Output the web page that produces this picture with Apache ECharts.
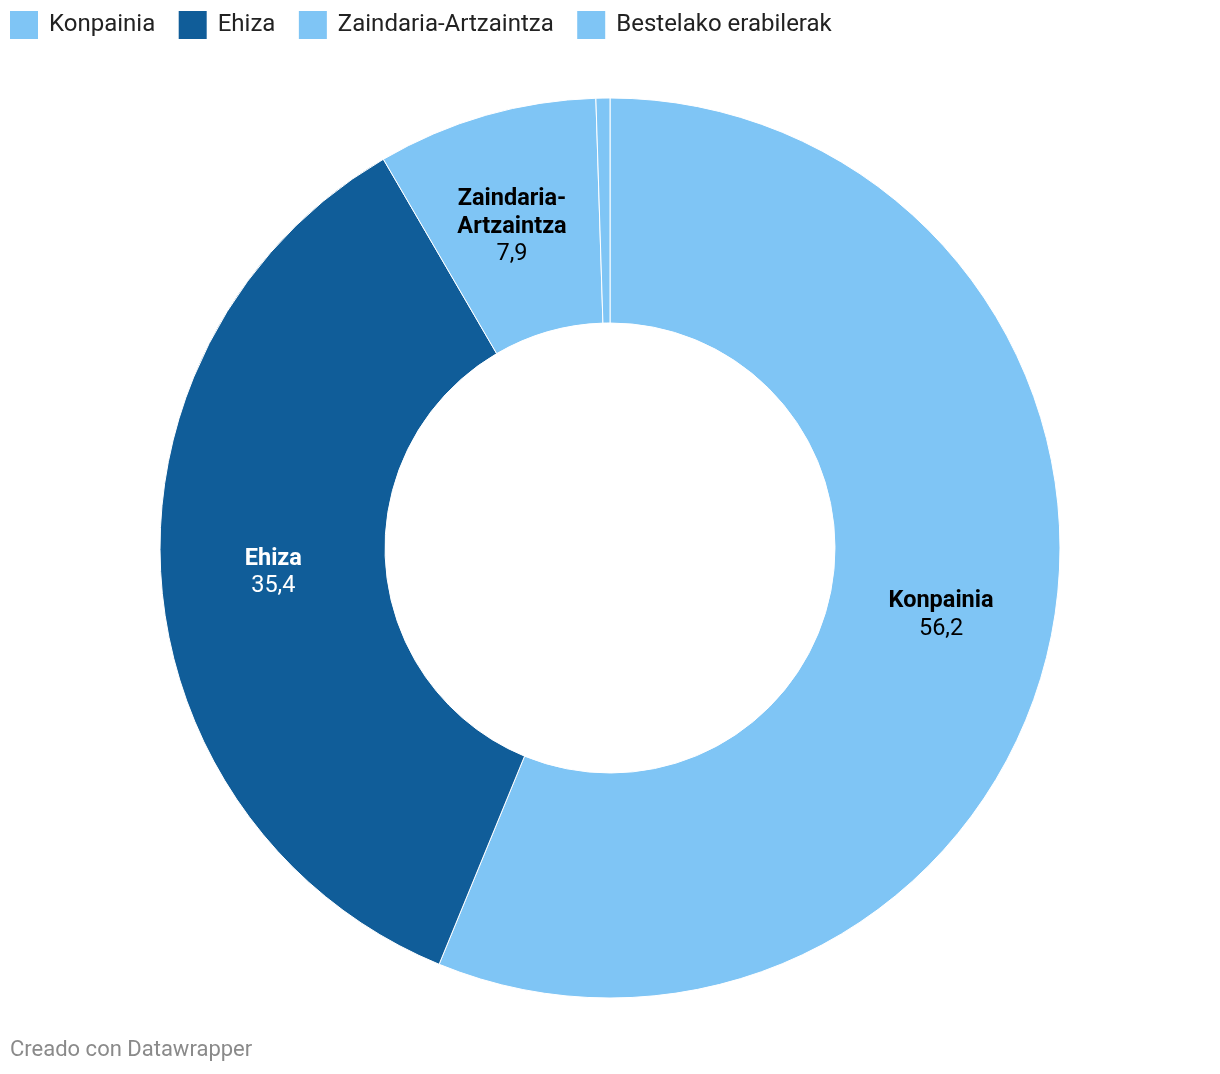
<!DOCTYPE html>
<html>
<head>
<meta charset="utf-8">
<script src="https://cdn.jsdelivr.net/npm/echarts@6/dist/echarts.min.js"></script>
<style>
html,body{margin:0;padding:0;background:#fff;}
#chart{width:1220px;height:1074px;}
</style>
</head>
<body>
<div id="chart"></div>
<script>
const categories = ["Konpainia", "Ehiza", "Zaindaria-Artzaintza", "Bestelako erabilerak"];
const values = [56.2, 35.4, 7.9, 0.5];
const colors = ["#7fc5f5", "#105d99", "#7fc5f5", "#7fc5f5"];
const labelColors = ["#000000", "#ffffff", "#000000", "#000000"];
const showLabel = [true, true, true, false];
const labelOffsets = [[-3, 1], [3, 1], [-4, 6], [0, 0]];

const chart = echarts.init(document.getElementById('chart'), null, {renderer: 'canvas'});
const fmt = v => v.toFixed(1).replace('.', ',');

chart.setOption({
  animation: false,
  textStyle: {fontFamily: 'Roboto'},
  legend: {
    left: 8, top: 9,
    padding: 0,
    icon: 'rect',
    itemWidth: 30, itemHeight: 30,
    itemGap: 21.5,
    selectedMode: false,
    data: categories,
    textStyle: {fontFamily: 'Roboto', fontSize: 24, color: '#222', padding: [0, 0, 0, 5]}
  },
  graphic: [{
    type: 'text', left: 10, top: 1039,
    style: {text: 'Creado con Datawrapper', fill: '#8a8a8a', font: '22px Roboto'}
  }],
  series: [{
    type: 'pie',
    center: [610, 548],
    radius: [225, 450],
    startAngle: 90,
    clockwise: true,
    avoidLabelOverlap: false,
    emphasis: {disabled: true},
    itemStyle: {borderColor: '#fff', borderWidth: 1},
    labelLine: {show: false},
    data: categories.map((c, i) => ({
      name: c,
      value: values[i],
      itemStyle: {color: colors[i]},
      label: {
        show: showLabel[i],
        position: 'inside',
        offset: labelOffsets[i],
        formatter: p => '{n|' + p.name.replace('-', '-\n') + '}\n{v|' + fmt(p.value) + '}',
        rich: {
          n: {fontFamily: 'Roboto', fontSize: 23.5, fontWeight: 'bold', color: labelColors[i], lineHeight: 27.5, align: 'center'},
          v: {fontFamily: 'Roboto', fontSize: 23.5, color: labelColors[i], lineHeight: 27.5, align: 'center'}
        }
      }
    }))
  }]
});
</script>
</body>
</html>
